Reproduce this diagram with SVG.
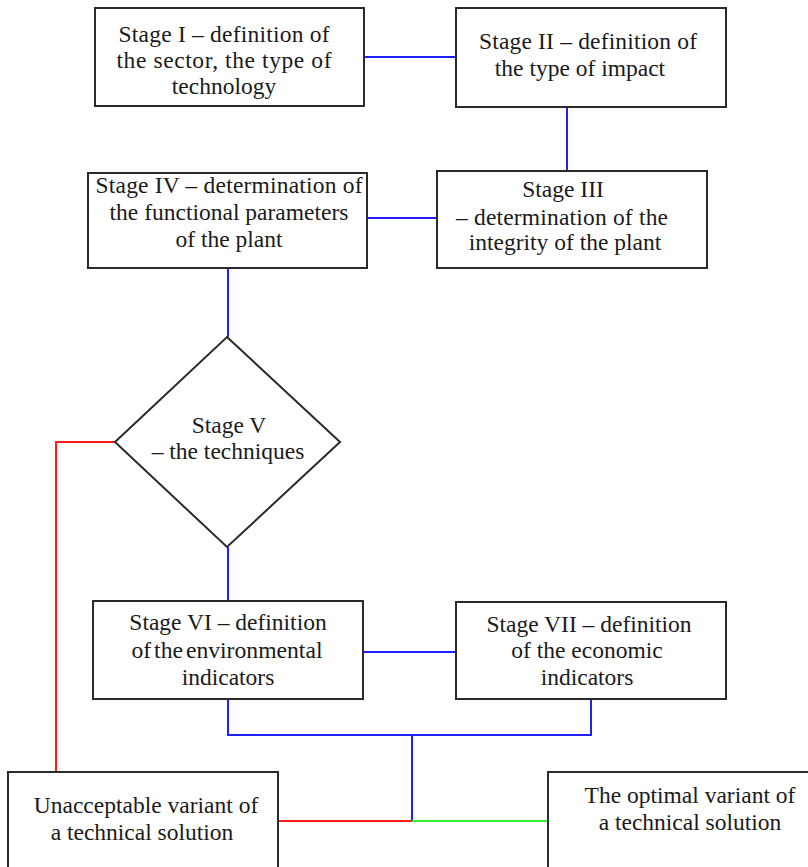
<svg xmlns="http://www.w3.org/2000/svg" width="808" height="867" viewBox="0 0 808 867">
<style>
.box{fill:#fff;stroke:#2a2a2a;stroke-width:2}
.t{font-family:"Liberation Serif","Times New Roman",serif;font-size:23.5px;fill:#1a1a1a;text-anchor:middle}
.b{stroke:#1f1fff;stroke-width:2;fill:none}
.r{stroke:#ff1a1a;stroke-width:2;fill:none}
.g{stroke:#33ee33;stroke-width:2;fill:none}
</style>
<rect width="808" height="867" fill="#fff"/>
<g id="connectors">
<line class="b" x1="364" y1="57" x2="456" y2="57"/>
<line class="b" x1="567" y1="107" x2="567" y2="171"/>
<line class="b" x1="367" y1="218" x2="437" y2="218"/>
<line class="b" x1="228" y1="268" x2="228" y2="337"/>
<line class="b" x1="228" y1="547" x2="228" y2="601"/>
<line class="b" x1="363" y1="652" x2="456" y2="652"/>
<polyline class="b" points="228,699 228,735 591,735 591,699"/>
<line class="b" x1="412" y1="735" x2="412" y2="821"/>
<polyline class="r" points="115,442 56,442 56,772"/>
<line class="r" x1="278" y1="821" x2="412" y2="821"/>
<line class="g" x1="412" y1="821" x2="548" y2="821"/>
</g>
<g id="stage1">
<rect class="box" x="95" y="8" width="269" height="98"/>
<text class="t" x="224" y="42" textLength="211" lengthAdjust="spacing">Stage I  –  definition of</text>
<text class="t" x="224" y="68" textLength="215" lengthAdjust="spacing">the sector, the type of</text>
<text class="t" x="224" y="94">technology</text>
</g>
<g id="stage2">
<rect class="box" x="456" y="8" width="270" height="99"/>
<text class="t" x="588" y="49" textLength="218" lengthAdjust="spacing">Stage II  –  definition of</text>
<text class="t" x="580" y="76">the type of impact</text>
</g>
<g id="stage3">
<rect class="box" x="437" y="171" width="270" height="97"/>
<text class="t" x="563" y="197">Stage III</text>
<text class="t" x="562" y="225" textLength="212" lengthAdjust="spacing">–  determination of the</text>
<text class="t" x="565" y="250">integrity of the plant</text>
</g>
<g id="stage4">
<rect class="box" x="88" y="173" width="279" height="95"/>
<text class="t" x="229" y="193" textLength="267" lengthAdjust="spacing">Stage  IV – determination of</text>
<text class="t" x="229" y="220">the functional parameters</text>
<text class="t" x="229" y="247">of the plant</text>
</g>
<g id="stage5">
<polygon class="box" points="227,337 340,442 227,547 115,442"/>
<text class="t" x="229" y="433">Stage V</text>
<text class="t" x="228" y="459">– the techniques</text>
</g>
<g id="stage6">
<rect class="box" x="93" y="601" width="270" height="98"/>
<text class="t" x="228" y="630">Stage VI – definition</text>
<text class="t" x="227" y="658" textLength="191" lengthAdjust="spacingAndGlyphs" word-spacing="-3">of the environmental</text>
<text class="t" x="228" y="685">indicators</text>
</g>
<g id="stage7">
<rect class="box" x="456" y="602" width="270" height="97"/>
<text class="t" x="589" y="632">Stage VII – definition</text>
<text class="t" x="587" y="658">of the economic</text>
<text class="t" x="587" y="685">indicators</text>
</g>
<g id="unacceptable">
<rect class="box" x="8" y="772" width="270" height="110"/>
<text class="t" x="146" y="813">Unacceptable variant of</text>
<text class="t" x="142" y="840">a technical solution</text>
</g>
<g id="optimal">
<rect class="box" x="548" y="772" width="280" height="110"/>
<text class="t" x="690" y="803">The optimal variant of</text>
<text class="t" x="690" y="830">a technical solution</text>
</g>
</svg>
